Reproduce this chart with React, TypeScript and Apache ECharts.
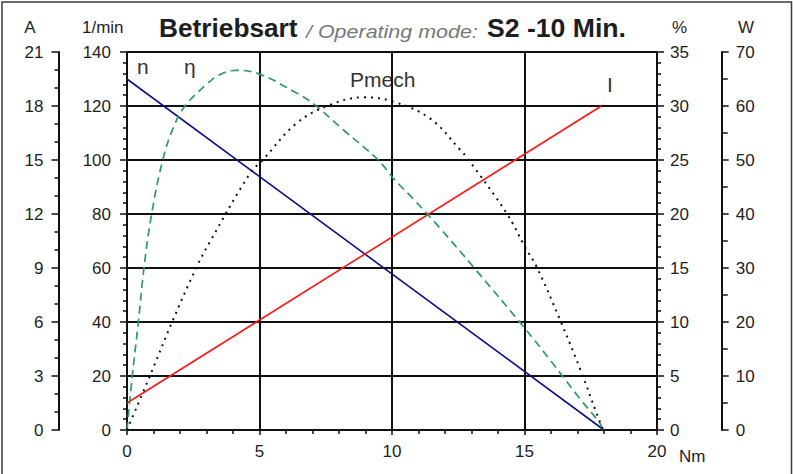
import React, { useEffect, useRef } from "react";
import * as echarts from "echarts";

// n (1/min) vs torque (Nm)
const nTorque = [0, 18];
const nSpeed = [130, 0];
// I (A) vs torque
const iTorque = [0, 17.9];
const iCurrent = [1.5, 18];
// efficiency eta (%) vs torque
const etaTorque = [0, 0.2, 0.43, 0.64, 0.93, 1.35, 1.75, 2.19, 3.0, 3.5, 4.1, 4.95, 6.4, 7.09, 8.16, 9.48, 10.05, 10.8, 11.81, 13.07, 14.95, 15.96, 17.09, 17.85, 17.95];
const etaValue = [0, 5, 10, 15, 20, 25, 28, 30, 32.0, 32.9, 33.3, 33.0, 31.2, 30.1, 27.8, 25.0, 23.3, 21.4, 18.7, 15.1, 9.6, 6.5, 2.9, 0.6, 0];
// mechanical power Pmech (W) vs torque
const pTorque = [0, 0.87, 1.72, 2.63, 3.1, 4.64, 5.14, 6.4, 7.66, 8.92, 10.05, 11.43, 12.57, 12.82, 14.33, 15.02, 15.46, 16.34, 17.09, 17.72, 17.96];
const pValue = [0, 10.1, 20.2, 30.2, 34.6, 47.5, 50.1, 56.8, 60.2, 61.6, 60.8, 57.7, 51.9, 50.5, 40.1, 33.9, 30.2, 20.4, 11.4, 3.1, 0];

const xTicks = { min: 0, max: 20, interval: 5 };
const speedAxis = { min: 0, max: 140, interval: 20 };
const currentAxis = { min: 0, max: 21, interval: 3 };
const etaAxis = { min: 0, max: 35, interval: 5 };
const powerAxis = { min: 0, max: 70, interval: 10 };

const zip = (a: number[], b: number[]) => a.map((v, i) => [v, b[i]]);

const FONT = '"Liberation Sans", Arial, Helvetica, sans-serif';
const INK = "#1e1e1e";

export default function App() {
  const ref = useRef<HTMLDivElement>(null);
  useEffect(() => {
    if (!ref.current) return;
    const chart = echarts.init(ref.current, null, { renderer: "svg" });
    const axisLine = { show: true, lineStyle: { color: "#111", width: 2 } };
    const label = { color: INK, fontSize: 17, fontFamily: FONT };
    const yBase = (extra: any) => ({
      type: "value",
      axisLine: axisLine,
      axisTick: { show: true, inside: false, length: 7, lineStyle: { color: "#111", width: 1.5 } },
      minorTick: { show: true, length: 4, lineStyle: { color: "#111", width: 1.5 } },
      splitLine: { show: false },
      ...extra,
    });
    const txt = (text: string, x: number, y: number, o: any = {}) => ({
      type: "text",
      x,
      y,
      silent: true,
      scaleX: o.scaleX ?? 1,
      style: {
        text,
        fill: o.fill ?? INK,
        fontSize: o.fontSize ?? 17,
        fontWeight: o.fontWeight ?? "normal",
        fontStyle: o.fontStyle ?? "normal",
        fontFamily: FONT,
        align: o.align ?? "left",
        verticalAlign: "middle",
      },
    });
    chart.setOption({
      animation: false,
      backgroundColor: "#ffffff",
      grid: { left: 127, right: 136, top: 52, bottom: 44, show: false },
      xAxis: {
        type: "value",
        ...xTicks,
        axisLine: axisLine,
        axisTick: { show: true, length: 5, lineStyle: { color: "#111", width: 1.5 } },
        minorTick: { show: true, splitNumber: 5, length: 4, lineStyle: { color: "#111", width: 1.5 } },
        splitLine: { show: true, lineStyle: { color: "#111", width: 2 } },
        axisLabel: { ...label, margin: 13 },
      },
      yAxis: [
        yBase({
          ...speedAxis,
          position: "left",
          offset: 0,
          minorTick: { show: true, splitNumber: 5, length: 4, lineStyle: { color: "#111", width: 1.5 } },
          splitLine: { show: true, lineStyle: { color: "#111", width: 2 } },
          axisLabel: { ...label, margin: 16 },
        }),
        yBase({
          ...currentAxis,
          position: "left",
          offset: 68.5,
          minorTick: { show: true, splitNumber: 3, length: 4, lineStyle: { color: "#111", width: 1.5 } },
          axisLabel: { ...label, margin: 15 },
        }),
        yBase({
          ...etaAxis,
          position: "right",
          offset: 0,
          minorTick: { show: true, splitNumber: 5, length: 4, lineStyle: { color: "#111", width: 1.5 } },
          axisLabel: { ...label, margin: 13 },
        }),
        yBase({
          ...powerAxis,
          position: "right",
          offset: 64.7,
          minorTick: { show: true, splitNumber: 2, length: 6, lineStyle: { color: "#111", width: 1.5 } },
          axisLabel: { ...label, margin: 14 },
        }),
      ],
      series: [
        {
          name: "n",
          type: "line",
          yAxisIndex: 0,
          data: zip(nTorque, nSpeed),
          showSymbol: false,
          silent: true,
          lineStyle: { color: "#0f0f8a", width: 1.6 },
        },
        {
          name: "I",
          type: "line",
          yAxisIndex: 1,
          data: zip(iTorque, iCurrent),
          showSymbol: false,
          silent: true,
          lineStyle: { color: "#ff1414", width: 1.6 },
        },
        {
          name: "η",
          type: "line",
          yAxisIndex: 2,
          data: zip(etaTorque, etaValue),
          showSymbol: false,
          silent: true,
          smooth: 0.4,
          lineStyle: { color: "#2e9b66", width: 1.7, type: [8, 5] },
        },
        {
          name: "Pmech",
          type: "line",
          yAxisIndex: 3,
          data: zip(pTorque, pValue),
          showSymbol: false,
          silent: true,
          smooth: 0.4,
          lineStyle: { color: "#111", width: 2, type: [2, 5] },
        },
      ],
      graphic: [
        {
          type: "rect",
          silent: true,
          shape: { x: 2, y: 2, width: 789.5, height: 480 },
          style: { fill: "none", stroke: "#3a3a3a", lineWidth: 1.5 },
        },
        txt("Betriebsart", 159, 28, { fontSize: 25, fontWeight: "bold", scaleX: 1.05 }),
        txt("/ Operating mode:", 306, 31.5, { fontSize: 19, fontStyle: "italic", fill: "#777777", scaleX: 1.13 }),
        txt("S2 -10 Min.", 487, 28, { fontSize: 25, fontWeight: "bold", scaleX: 1.065 }),
        txt("A", 30, 27.5, { align: "center" }),
        txt("1/min", 82, 27.5),
        txt("%", 672, 27.5),
        txt("W", 746, 27.5, { align: "center" }),
        txt("Nm", 679, 456.5),
        txt("n", 137, 66.6, { fontSize: 21, fill: "#333" }),
        txt("η", 184, 66.6, { fontSize: 21, fill: "#333" }),
        txt("Pmech", 350, 79.5, { fontSize: 21, fill: "#333" }),
        txt("I", 607, 84.5, { fontSize: 21, fill: "#333" }),
      ],
    });
    return () => chart.dispose();
  }, []);
  return (
    <div
      ref={ref}
      style={{ position: "fixed", left: 0, top: 0, width: 793, height: 474 }}
    />
  );
}
